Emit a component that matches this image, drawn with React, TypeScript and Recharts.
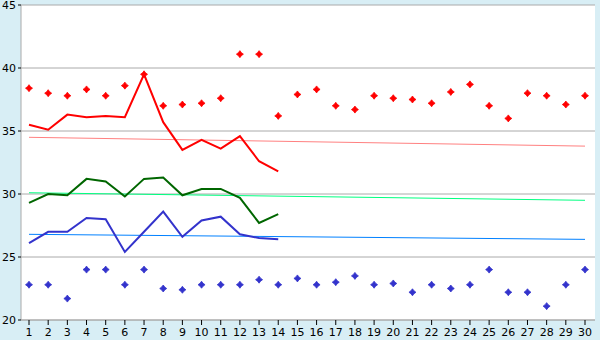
import React from 'react';
import { ComposedChart, Line, XAxis, YAxis, CartesianGrid } from 'recharts';

const days = [1, 2, 3, 4, 5, 6, 7, 8, 9, 10, 11, 12, 13, 14, 15, 16, 17, 18, 19, 20, 21, 22, 23, 24, 25, 26, 27, 28, 29, 30];
const highMarks = [38.4, 38.0, 37.8, 38.3, 37.8, 38.6, 39.5, 37.0, 37.1, 37.2, 37.6, 41.1, 41.1, 36.2, 37.9, 38.3, 37.0, 36.7, 37.8, 37.6, 37.5, 37.2, 38.1, 38.7, 37.0, 36.0, 38.0, 37.8, 37.1, 37.8];
const lowMarks = [22.8, 22.8, 21.7, 24.0, 24.0, 22.8, 24.0, 22.5, 22.4, 22.8, 22.8, 22.8, 23.2, 22.8, 23.3, 22.8, 23.0, 23.5, 22.8, 22.9, 22.2, 22.8, 22.5, 22.8, 24.0, 22.2, 22.2, 21.1, 22.8, 24.0];
const redLine = [35.5, 35.1, 36.3, 36.1, 36.2, 36.1, 39.5, 35.7, 33.5, 34.3, 33.6, 34.6, 32.6, 31.8];
const greenLine = [29.3, 30.0, 29.9, 31.2, 31.0, 29.8, 31.2, 31.3, 29.9, 30.4, 30.4, 29.7, 27.7, 28.4];
const blueLine = [26.1, 27.0, 27.0, 28.1, 28.0, 25.4, 27.0, 28.6, 26.6, 27.9, 28.2, 26.8, 26.5, 26.4];
const trendDays = [1, 30];
const redTrend = [34.5, 33.8];
const greenTrend = [30.1, 29.5];
const blueTrend = [26.8, 26.4];
const yTicks = [20, 25, 30, 35, 40, 45];

const data = days.map((d, i) => {
  const t = trendDays.indexOf(d);
  return {
    day: d,
    hiMark: highMarks[i],
    loMark: lowMarks[i],
    red: i < redLine.length ? redLine[i] : null,
    green: i < greenLine.length ? greenLine[i] : null,
    blue: i < blueLine.length ? blueLine[i] : null,
    redT: t >= 0 ? redTrend[t] : null,
    greenT: t >= 0 ? greenTrend[t] : null,
    blueT: t >= 0 ? blueTrend[t] : null,
  };
});

const makeStar = (color: string) => (props: any) => {
  const { cx, cy, index } = props;
  if (cx == null || cy == null) return <g key={index} />;
  const d = `M${cx},${cy - 3.5} L${cx + 1.5},${cy - 1.5} L${cx + 3.5},${cy} L${cx + 1.5},${cy + 1.5} L${cx},${cy + 3.5} L${cx - 1.5},${cy + 1.5} L${cx - 3.5},${cy} L${cx - 1.5},${cy - 1.5} Z`;
  return <path key={index} d={d} fill={color} stroke={color} strokeWidth={0.8} />;
};

const tickStyle = { fontFamily: 'DejaVu Sans, Verdana, sans-serif', fontSize: 11, fill: '#000' };

export default function App() {
  return (
    <div style={{ position: 'absolute', left: 0, top: 0, width: 600, height: 340, background: '#d8eef5' }}>
      <ComposedChart width={600} height={340} data={data} margin={{ top: 5, right: 5, bottom: 0, left: 0 }}>
        <CartesianGrid vertical={false} stroke="#aaaaaa" fill="#ffffff" fillOpacity={1} />
        <XAxis
          dataKey="day"
          type="number"
          domain={[1, 30]}
          ticks={days}
          interval={0}
          padding={{ left: 8, right: 10 }}
          height={20}
          tickSize={5}
          tickMargin={3}
          axisLine={{ stroke: '#aaaaaa' }}
          tickLine={{ stroke: '#000' }}
          tick={tickStyle}
        />
        <YAxis
          domain={[20, 45]}
          ticks={yTicks}
          interval={0}
          width={21}
          tickSize={3}
          tickMargin={2}
          axisLine={{ stroke: '#aaaaaa' }}
          tickLine={{ stroke: '#000' }}
          tick={tickStyle}
        />
        <YAxis
          yAxisId="right"
          orientation="right"
          domain={[20, 45]}
          width={0}
          tick={false}
          tickLine={false}
          axisLine={{ stroke: '#aaaaaa' }}
        />
        <Line dataKey="redT" stroke="#ff8080" strokeWidth={1} dot={false} activeDot={false} connectNulls isAnimationActive={false} />
        <Line dataKey="greenT" stroke="#00ff80" strokeWidth={1} dot={false} activeDot={false} connectNulls isAnimationActive={false} />
        <Line dataKey="blueT" stroke="#0080ff" strokeWidth={1} dot={false} activeDot={false} connectNulls isAnimationActive={false} />
        <Line dataKey="red" stroke="#ff0000" strokeWidth={2} dot={false} activeDot={false} isAnimationActive={false} />
        <Line dataKey="green" stroke="#006600" strokeWidth={2} dot={false} activeDot={false} isAnimationActive={false} />
        <Line dataKey="blue" stroke="#3333cc" strokeWidth={2} dot={false} activeDot={false} isAnimationActive={false} />
        <Line dataKey="hiMark" stroke="none" dot={makeStar('#ff0000')} activeDot={false} isAnimationActive={false} />
        <Line dataKey="loMark" stroke="none" dot={makeStar('#3333cc')} activeDot={false} isAnimationActive={false} />
      </ComposedChart>
    </div>
  );
}
